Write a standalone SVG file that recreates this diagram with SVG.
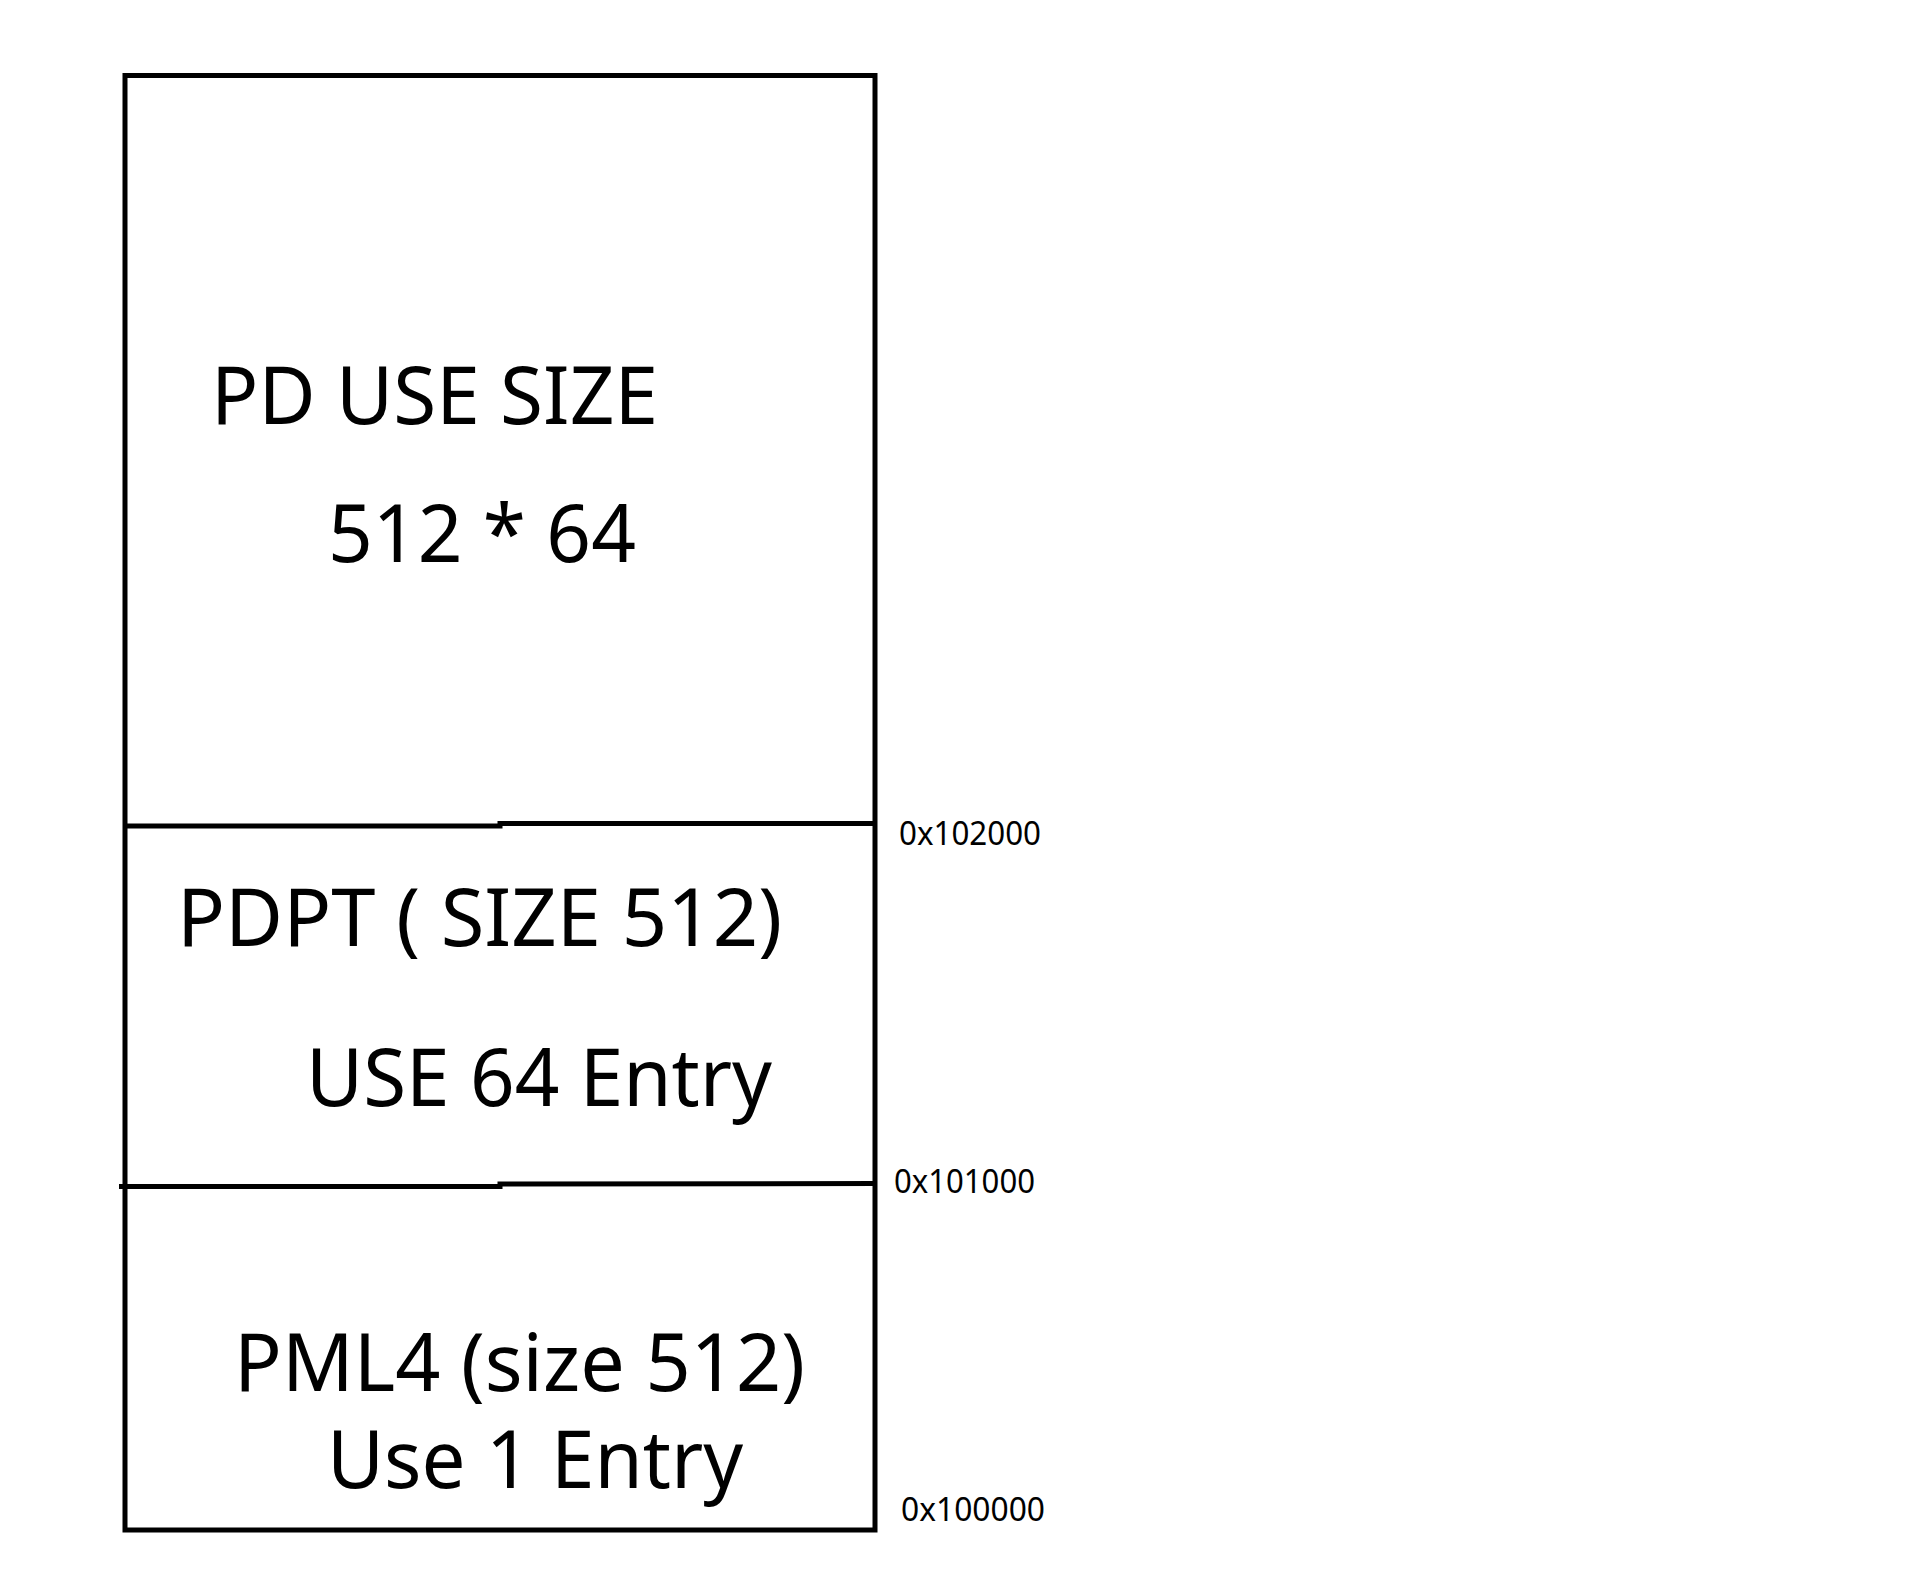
<svg xmlns="http://www.w3.org/2000/svg" width="1912" height="1589" viewBox="0 0 1912 1589">
<style>
.ln{fill:none;stroke:#000;stroke-width:5;stroke-linecap:butt}
.big{font-family:"Noto Sans","Liberation Sans",sans-serif;font-size:81px;fill:#000}
.addr{font-family:"Noto Sans","Liberation Sans",sans-serif;font-size:32px;fill:#000}
</style>
<rect x="0" y="0" width="1912" height="1589" fill="#fff"/>
<g id="outline">
<rect class="ln" x="125" y="75.5" width="750" height="1454.5"/>
</g>
<g id="dividers">
<polyline class="ln" points="125,826 500,826 500,823.5 877,823.5"/>
<polyline class="ln" points="119,1186.5 500,1186.5 500,1184 877,1183.5"/>
</g>
<g id="pd">
<text class="big" x="211" y="424" textLength="447" lengthAdjust="spacingAndGlyphs">PD USE SIZE</text>
<text class="big" x="328" y="562" textLength="308" lengthAdjust="spacingAndGlyphs">512 * 64</text>
</g>
<g id="pdpt">
<text class="big" x="177" y="946" textLength="605" lengthAdjust="spacingAndGlyphs">PDPT ( SIZE 512)</text>
<text class="big" x="306" y="1106" textLength="466" lengthAdjust="spacingAndGlyphs">USE 64 Entry</text>
</g>
<g id="pml4">
<text class="big" x="234" y="1391" textLength="571" lengthAdjust="spacingAndGlyphs">PML4 (size 512)</text>
<text class="big" x="327" y="1488" textLength="416" lengthAdjust="spacingAndGlyphs">Use 1 Entry</text>
</g>
<g id="addresses">
<text class="addr" x="899" y="845" textLength="142" lengthAdjust="spacingAndGlyphs">0x102000</text>
<text class="addr" x="894" y="1193" textLength="141" lengthAdjust="spacingAndGlyphs">0x101000</text>
<text class="addr" x="901" y="1521" textLength="144" lengthAdjust="spacingAndGlyphs">0x100000</text>
</g>
</svg>
